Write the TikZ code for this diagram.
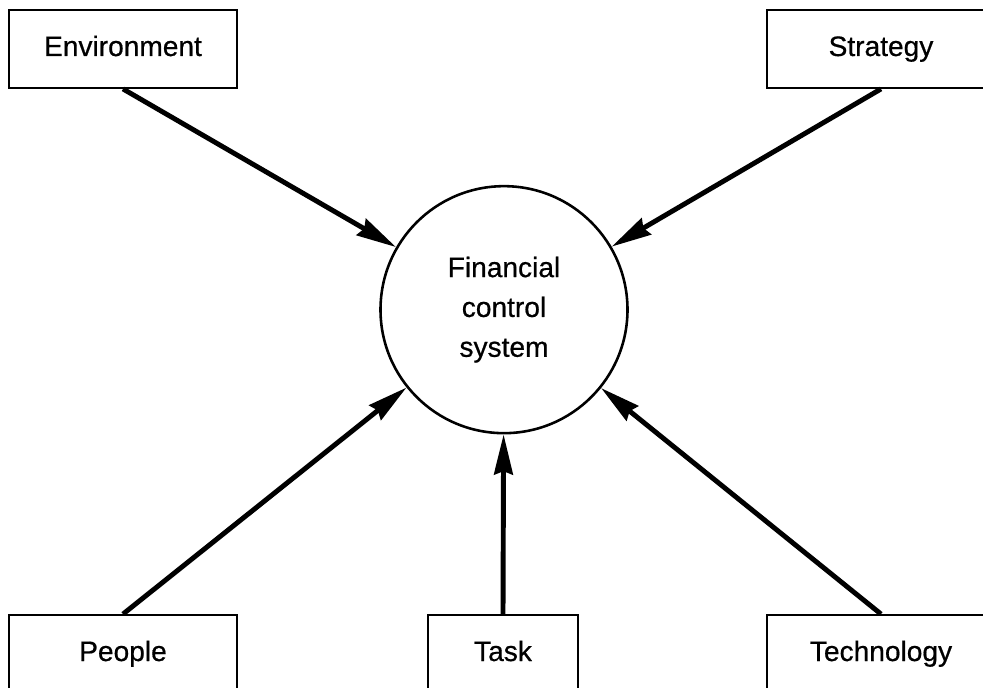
\documentclass[tikz,border=0pt]{standalone}
\usepackage{fontspec}
\setmainfont{Liberation Sans}[FakeBold=0.6]
\usetikzlibrary{arrows.meta}

\begin{document}
\begin{tikzpicture}[font=\fontsize{24}{34}\selectfont, xscale=1, yscale=1]
%% page frame, the boxes on the right and at the bottom run off its edges
\useasboundingbox (0,0) rectangle (29.49,-20.64);
\tikzstyle{arc}=[-{Stealth[length=1.2cm,width=0.56cm,inset=0.1cm]},line width=4.2pt]
\tikzstyle{factor}=[draw,line width=1.6pt,minimum width=6.84cm,minimum height=2.34cm,inner sep=0pt,text height=0.62cm,text depth=0.2cm]
\tikzstyle{smallfactor}=[factor,minimum width=4.5cm]
\tikzstyle{system}=[draw,circle,line width=2.2pt,minimum size=7.41cm,inner sep=0pt,align=center]
%% TikZ-figure elements %%
\node[system] at (15.12,-9.29) (FCS) {Financial\\control\\system};
%% factors above the system
\node[factor] at (3.69,-1.47) (Environment) {Environment};
\node[factor] at (26.43,-1.47) (Strategy) {Strategy};
%% factors below the system
\node[factor] at (3.69,-19.62) (People) {People};
\node[smallfactor] at (15.09,-19.62) (Task) {Task};
\node[factor] at (26.43,-19.62) (Technology) {Technology};
%% arcs into the system
\draw[arc] (Environment.south) -- (FCS);
\draw[arc] (Strategy.south) -- (FCS);
\draw[arc] (People.north) -- (FCS);
\draw[arc] (Task.north) -- (FCS);
\draw[arc] (Technology.north) -- (FCS);
\end{tikzpicture}
\end{document}
